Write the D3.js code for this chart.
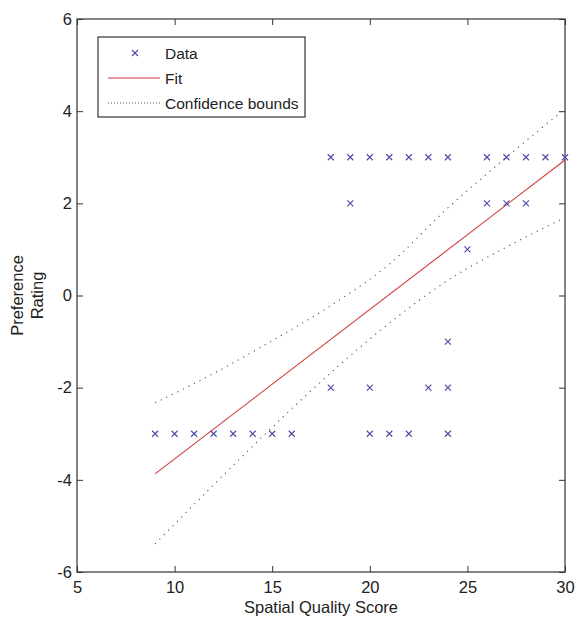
<!DOCTYPE html>
<html>
<head>
<meta charset="utf-8">
<script src="https://cdn.jsdelivr.net/npm/d3@7"></script>
<style>
  body { margin: 0; background: #fff; }
  text { font-family: Arial, "Liberation Sans", sans-serif; fill: #222; }
</style>
</head>
<body>
<svg id="chart" width="575" height="619"></svg>
<script>
// data
var dataX = [9, 10, 11, 12, 13, 14, 15, 16, 20, 21, 22, 24,
             18, 20, 23, 24, 24, 25, 19, 26, 27, 28,
             18, 19, 20, 21, 22, 23, 24, 26, 27, 28, 29, 30];
var dataY = [-3, -3, -3, -3, -3, -3, -3, -3, -3, -3, -3, -3,
             -2, -2, -2, -2, -1, 1, 2, 2, 2, 2,
             3, 3, 3, 3, 3, 3, 3, 3, 3, 3, 3, 3];
var fitX = [9, 30];
var fitY = [-3.87, 2.94];
var boundX = [9, 12, 15, 18, 21, 24, 27, 30];
var upperY = [-2.33, -1.69, -0.98, -0.22, 0.68, 1.9, 3.0, 4.05];
var lowerY = [-5.39, -4.11, -2.86, -1.68, -0.6, 0.33, 1.05, 1.69];
var xTicks = [5, 10, 15, 20, 25, 30];
var yTicks = [-6, -4, -2, 0, 2, 4, 6];
var legendItems = ['Data', 'Fit', 'Confidence bounds'];

var svg = d3.select('#chart');
var margin = {left: 77, right: 10, top: 19, bottom: 47};
var W = 575, H = 619;
var x = d3.scaleLinear().domain([5, 30]).range([margin.left, W - margin.right]);
var y = d3.scaleLinear().domain([-6, 6]).range([H - margin.bottom, margin.top]);

var axisColor = '#333';
var fontSize = '16.5px';
var plain = function(d) { return String(d); };   // hyphen minus like the original

// axes, ticks inward, mirrored on top and right
function styleAxis(g) {
  g.select('.domain').remove();
  g.selectAll('.tick line').attr('stroke', axisColor);
  g.selectAll('.tick text').style('font-size', fontSize).attr('fill', '#222');
}

svg.append('g')
  .attr('transform', 'translate(0,' + y(-6) + ')')
  .call(d3.axisBottom(x).tickValues(xTicks).tickSize(-6).tickPadding(9).tickFormat(plain))
  .call(styleAxis);
svg.append('g')
  .attr('transform', 'translate(0,' + y(6) + ')')
  .call(d3.axisTop(x).tickValues(xTicks).tickSize(-6).tickFormat(''))
  .call(styleAxis);
svg.append('g')
  .attr('transform', 'translate(' + x(5) + ',0)')
  .call(d3.axisLeft(y).tickValues(yTicks).tickSize(-6).tickPadding(5).tickFormat(plain))
  .call(styleAxis);
svg.append('g')
  .attr('transform', 'translate(' + x(30) + ',0)')
  .call(d3.axisRight(y).tickValues(yTicks).tickSize(-6).tickFormat(''))
  .call(styleAxis);

svg.append('rect')
  .attr('x', x(5)).attr('y', y(6))
  .attr('width', x(30) - x(5)).attr('height', y(-6) - y(6))
  .attr('fill', 'none').attr('stroke', axisColor).attr('stroke-width', 1.2);

// confidence bounds
var curve = d3.line().x(function(d) { return x(d[0]); }).y(function(d) { return y(d[1]); }).curve(d3.curveMonotoneX);
[upperY, lowerY].forEach(function(vals) {
  svg.append('path')
    .datum(boundX.map(function(v, i) { return [v, vals[i]]; }))
    .attr('d', curve)
    .attr('fill', 'none')
    .attr('stroke', '#6a4c5c')
    .attr('stroke-width', 1.1)
    .attr('stroke-dasharray', '1.2,5');
});

// fit line
svg.append('path')
  .datum(fitX.map(function(v, i) { return [v, fitY[i]]; }))
  .attr('d', curve)
  .attr('fill', 'none')
  .attr('stroke', '#d23a3a')
  .attr('stroke-width', 1.1);

// data markers
var markerColor = '#4a4aa6';
function cross(g, cx, cy) {
  var s = 3;
  g.append('path')
    .attr('d', 'M' + (cx - s) + ',' + (cy - s) + 'L' + (cx + s) + ',' + (cy + s) +
               'M' + (cx - s) + ',' + (cy + s) + 'L' + (cx + s) + ',' + (cy - s))
    .attr('stroke', markerColor)
    .attr('stroke-width', 1.1);
}
var pts = svg.append('g');
dataX.forEach(function(v, i) { cross(pts, x(v), y(dataY[i])); });

// legend
var lg = svg.append('g');
lg.append('rect')
  .attr('x', 98).attr('y', 37).attr('width', 207).attr('height', 80)
  .attr('fill', '#fff').attr('stroke', axisColor).attr('stroke-width', 1.2);
legendItems.forEach(function(name, i) {
  var ly = 53 + i * 25;
  if (i === 0) {
    cross(lg, 135, ly);
  } else {
    lg.append('line')
      .attr('x1', 108).attr('x2', 160).attr('y1', ly).attr('y2', ly)
      .attr('stroke', i === 1 ? '#d23a3a' : '#6a4c5c')
      .attr('stroke-width', 1.1)
      .attr('stroke-dasharray', i === 1 ? null : '1,2');
  }
  lg.append('text')
    .attr('x', 165).attr('y', ly).attr('dy', '0.36em')
    .style('font-size', '15.5px')
    .text(name);
});

// axis titles
svg.append('text')
  .attr('x', x(17.5)).attr('y', 613)
  .attr('text-anchor', 'middle')
  .style('font-size', fontSize)
  .text('Spatial Quality Score');
svg.append('text')
  .attr('transform', 'translate(23,' + y(0) + ') rotate(-90)')
  .attr('text-anchor', 'middle')
  .style('font-size', fontSize)
  .text('Preference');
svg.append('text')
  .attr('transform', 'translate(43,' + y(0) + ') rotate(-90)')
  .attr('text-anchor', 'middle')
  .style('font-size', fontSize)
  .text('Rating');
</script>
</body>
</html>
